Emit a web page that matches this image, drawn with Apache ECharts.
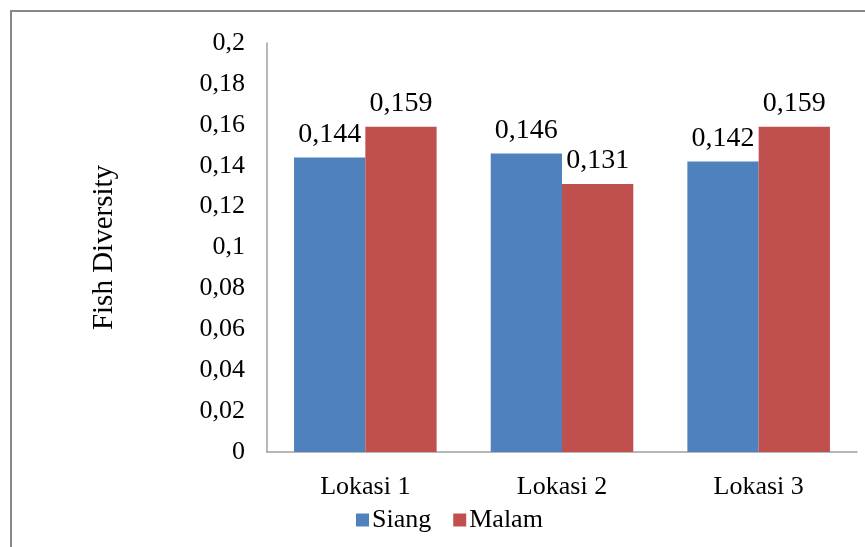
<!DOCTYPE html>
<html>
<head>
<meta charset="utf-8">
<script src="https://cdn.jsdelivr.net/npm/echarts@6/dist/echarts.min.js"></script>
<style>
html,body{margin:0;padding:0;background:#fff;}
#c{width:865px;height:547px;}
</style>
</head>
<body>
<div id="c"></div>
<script>
const categories = ['Lokasi 1', 'Lokasi 2', 'Lokasi 3'];
const siang = [0.144, 0.146, 0.142];
const malam = [0.159, 0.131, 0.159];
const seriesNames = ['Siang', 'Malam'];
const yAxisName = 'Fish Diversity';

const FONT = '"Liberation Serif", "Times New Roman", serif';
const fmt = v => String(+(+v).toFixed(3)).replace('.', ',');

const chart = echarts.init(document.getElementById('c'));
chart.setOption({
  animation: false,
  backgroundColor: '#fff',
  textStyle: { fontFamily: FONT },
  graphic: [{
    type: 'rect',
    shape: { x: 11, y: 11, width: 900, height: 600 },
    style: { fill: 'none', stroke: '#878787', lineWidth: 2 },
    silent: true
  }],
  grid: { left: 267, right: 8, top: 43, bottom: 95 },
  legend: {
    data: seriesNames,
    left: 351,
    top: 502,
    itemWidth: 13,
    itemHeight: 13,
    itemGap: 22,
    icon: 'rect',
    textStyle: { fontFamily: FONT, fontSize: 26, color: '#000', padding: [0, 0, 0, -2] }
  },
  xAxis: {
    type: 'category',
    data: categories,
    axisLine: { lineStyle: { color: '#a0a0a0', width: 1.5 } },
    axisTick: { show: false },
    axisLabel: { fontFamily: FONT, fontSize: 26, color: '#000', margin: 22 }
  },
  yAxis: {
    type: 'value',
    min: 0,
    max: 0.2,
    interval: 0.02,
    name: yAxisName,
    nameLocation: 'middle',
    nameGap: 148,
    nameRotate: 90,
    nameTextStyle: { fontFamily: FONT, fontSize: 29, color: '#000' },
    splitLine: { show: false },
    axisLine: { show: true, lineStyle: { color: '#a0a0a0', width: 1.5 } },
    axisTick: { show: false },
    axisLabel: { fontFamily: FONT, fontSize: 26, color: '#000', margin: 22, formatter: fmt }
  },
  series: [
    {
      name: seriesNames[0], type: 'bar', data: siang,
      itemStyle: { color: '#4F81BD' },
      barGap: '0%', barCategoryGap: '27.5%',
      label: { show: true, position: 'top', distance: 9, fontFamily: FONT, fontSize: 28, color: '#000', formatter: p => fmt(p.value) }
    },
    {
      name: seriesNames[1], type: 'bar', data: malam,
      itemStyle: { color: '#C0504D' },
      barGap: '0%', barCategoryGap: '27.5%',
      label: { show: true, position: 'top', distance: 9, fontFamily: FONT, fontSize: 28, color: '#000', formatter: p => fmt(p.value) }
    }
  ]
});
</script>
</body>
</html>
